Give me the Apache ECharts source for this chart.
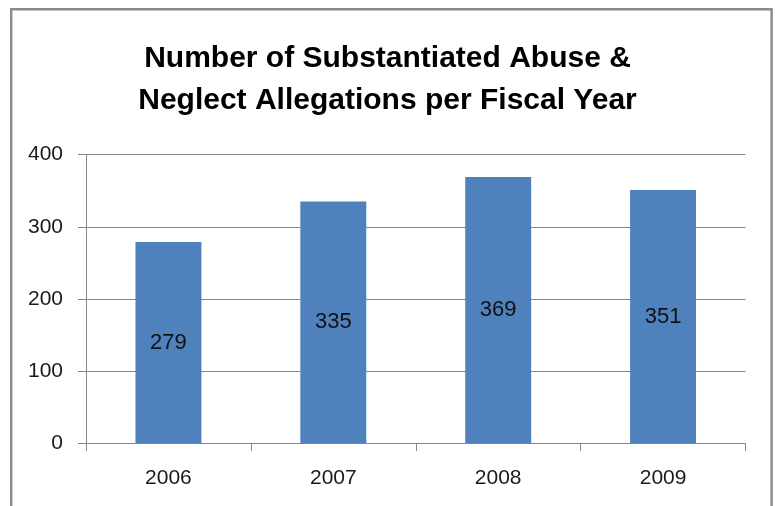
<!DOCTYPE html>
<html>
<head>
<meta charset="utf-8">
<script src="https://cdn.jsdelivr.net/npm/echarts@6/dist/echarts.min.js"></script>
<style>
  html, body { margin: 0; padding: 0; background: #ffffff; }
  #chart { width: 775px; height: 506px; }
</style>
</head>
<body>
<div id="chart"></div>
<script>
// Fiscal years and substantiated allegation counts
const fiscalYears = ['2006', '2007', '2008', '2009'];
const allegationCounts = [279, 335, 369, 351];
const yTicks = { min: 0, max: 400, interval: 100 };

const titleText = 'Number of Substantiated Abuse &\nNeglect Allegations per Fiscal Year';
const fontFamily = "'Liberation Sans', Arial, sans-serif";
const gray = '#868686';

const chart = echarts.init(document.getElementById('chart'), null, { renderer: 'canvas' });

chart.setOption({
  animation: false,
  backgroundColor: '#ffffff',
  title: {
    text: titleText,
    left: 'center',
    top: 33,
    textStyle: {
      fontFamily: fontFamily,
      fontWeight: 'bold',
      fontSize: 30,
      lineHeight: 42,
      color: '#000000'
    }
  },
  graphic: [{
    type: 'rect',
    silent: true,
    shape: { x: 11.2, y: 9.2, width: 760.4, height: 520 },
    style: { fill: 'none', stroke: '#8a8a8a', lineWidth: 2.4 }
  }],
  grid: {
    left: 86,
    right: 29.5,
    top: 154.7,
    bottom: 63,
    containLabel: false
  },
  xAxis: {
    type: 'category',
    data: fiscalYears,
    axisLine: { show: true, lineStyle: { color: gray, width: 1 } },
    axisTick: { show: true, alignWithLabel: false, length: 8, lineStyle: { color: gray } },
    axisLabel: {
      margin: 25,
      fontFamily: fontFamily,
      fontSize: 21,
      color: '#1a1a1a'
    },
    splitLine: { show: false }
  },
  yAxis: {
    type: 'value',
    min: yTicks.min,
    max: yTicks.max,
    interval: yTicks.interval,
    axisLine: { show: true, lineStyle: { color: gray, width: 1 } },
    axisTick: { show: true, inside: false, length: 8, lineStyle: { color: gray } },
    axisLabel: {
      margin: 23,
      fontFamily: fontFamily,
      fontSize: 21,
      color: '#1a1a1a'
    },
    splitLine: { show: true, lineStyle: { color: gray, width: 1 } }
  },
  series: [{
    type: 'bar',
    data: allegationCounts,
    barWidth: '40%',
    itemStyle: { color: '#4f81bd' },
    label: {
      show: true,
      position: 'inside',
      fontFamily: fontFamily,
      fontSize: 22,
      color: '#111111'
    }
  }]
});
</script>
</body>
</html>
